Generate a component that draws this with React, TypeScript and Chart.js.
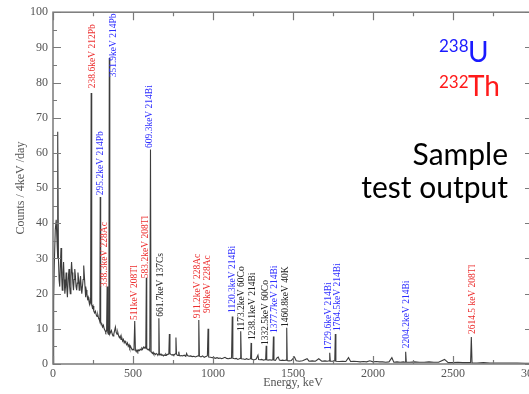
import React, { useEffect, useRef } from "react";
import { Chart, registerables } from "chart.js";

Chart.register(...registerables);

// ---- spectrum (energy in keV, counts / 4keV / day) ----
const energyKeV: number[] = [
  0, 4, 8, 14, 20, 25, 28, 31, 34, 38,
  42, 46, 50, 54, 58, 62, 66, 70, 74, 78,
  82, 86, 90, 95, 100, 104, 108, 112, 116, 120,
  124, 128, 132, 136, 140, 144, 148, 152, 156, 160,
  164, 168, 172, 176, 180, 184, 188, 192, 196, 200,
  204, 208, 212, 216, 220, 224, 228, 232, 235, 238.6,
  242, 246, 250, 255, 260, 265, 270, 275, 280, 285,
  290, 293, 295.2, 298, 302, 306, 310, 315, 320, 325,
  330, 335, 338.3, 342, 346, 349, 351.9, 355, 360, 365,
  370, 375, 380, 385, 390, 395, 400, 405, 410, 415,
  420, 425, 430, 435, 440, 445, 450, 455, 460, 465,
  470, 475, 480, 485, 490, 495, 500, 506, 510.8, 515,
  520, 525, 530, 535, 540, 545, 550, 555, 560, 565,
  570, 575, 580, 583.2, 586, 590, 595, 600, 605, 609.3,
  613, 618, 622, 626, 630, 635, 640, 645, 650, 655,
  658, 661.7, 665, 670, 675, 680, 685, 690, 695, 700,
  705, 710, 715, 720, 724, 727.3, 731, 735, 740, 745,
  750, 755, 760, 765, 768.4, 772, 777, 782, 786, 790,
  795, 800, 810, 820, 830, 835, 840, 850, 860, 870,
  880, 890, 900, 907, 911.2, 915, 925, 935, 945, 955,
  960, 965, 969, 973, 985, 995, 1005, 1015, 1025, 1035,
  1045, 1055, 1065, 1075, 1085, 1095, 1105, 1116, 1120.3, 1124,
  1135, 1145, 1155, 1165, 1170, 1173.2, 1177, 1190, 1200, 1210,
  1220, 1230, 1235, 1238.1, 1241, 1250, 1260, 1270, 1281, 1285,
  1295, 1305, 1315, 1325, 1329, 1332.5, 1336, 1345, 1355, 1365,
  1374, 1377.7, 1381, 1390, 1401, 1408, 1415, 1425, 1435, 1445,
  1457, 1460.8, 1464, 1475, 1490, 1509, 1520, 1540, 1560, 1588,
  1600, 1620, 1640, 1661, 1680, 1700, 1715, 1726, 1729.6, 1733,
  1750, 1761, 1764.5, 1768, 1790, 1810, 1830, 1847, 1860, 1880,
  1900, 1920, 1940, 1960, 1980, 2000, 2020, 2040, 2060, 2080,
  2100, 2118, 2130, 2150, 2170, 2190, 2200, 2204.2, 2208, 2230,
  2260, 2290, 2320, 2350, 2380, 2410, 2447, 2470, 2500, 2530,
  2560, 2590, 2610, 2614.5, 2619, 2650, 2690, 2730, 2760, 2800,
  2850, 2900, 2950, 3000,
];

const countsPerDay: number[] = [
  0, 18, 28, 38, 41, 35, 30, 66, 30, 24,
  22, 28, 33, 25, 21, 26, 29, 24, 20, 22,
  26, 22, 19, 24, 27, 22, 20, 25, 29, 26,
  23, 21, 24, 27, 25, 22, 21, 23, 26, 24,
  21, 23, 25, 22, 20, 22, 24, 28, 25, 22,
  19, 21, 20, 18.5, 19, 18, 17, 18, 17.5, 77,
  17, 16, 16.5, 15, 14.5, 15, 14, 13.5, 14, 13,
  12.5, 12, 47.5, 12, 11.5, 11, 10.5, 11, 10, 9.5,
  9, 9.5, 22, 9, 8.5, 9, 87, 8.5, 9, 9.5,
  8.5, 8, 8.5, 9.5, 10.5, 9, 8.5, 9, 8, 7.5,
  8, 7, 7.5, 6.5, 7, 6, 6.5, 6, 5.5, 6,
  5, 5.5, 4.5, 5, 4.5, 4, 4.2, 4, 12.2, 4,
  3.5, 4, 3.5, 4, 3.8, 4.2, 4, 4.5, 4.2, 4.8,
  4.5, 4.8, 4.5, 24.5, 4.5, 4.2, 4, 4.2, 3.8, 61,
  3.5, 3.2, 3, 3.3, 2.8, 3, 2.7, 3, 2.8, 2.6,
  2.8, 13, 2.6, 2.8, 2.5, 2.7, 2.5, 2.3, 2.6, 2.4,
  2.8, 2.5, 2.7, 2.8, 3, 8.5, 3, 2.8, 2.6, 2.5,
  2.7, 2.5, 2.7, 2.9, 7.5, 2.8, 2.5, 2.4, 3.5, 2.4,
  2.3, 2.4, 2.3, 2.5, 2.2, 3, 2.4, 2.2, 2.3, 2.1,
  2.2, 2, 2.2, 2.3, 12.5, 2.2, 2, 2.3, 1.9, 2.1,
  2.2, 2.4, 10, 2, 1.9, 1.8, 1.8, 1.6, 1.8, 1.6,
  1.7, 1.5, 1.7, 1.9, 1.6, 1.5, 1.6, 1.7, 13.5, 1.6,
  1.5, 1.6, 1.3, 1.5, 1.6, 9.3, 1.5, 1.4, 1.3, 1.5,
  1.3, 1.4, 1.5, 6, 1.4, 1.3, 1.2, 1.4, 2.5, 1.3,
  1.2, 1.3, 1.1, 1.2, 1.3, 5.2, 1.2, 1.1, 1.2, 1.1,
  1.2, 7.8, 1.1, 1, 1.8, 2, 1.1, 1, 1.1, 1,
  1.1, 10.3, 1, 0.9, 1, 2, 0.9, 0.8, 0.9, 1.5,
  0.8, 0.9, 0.8, 1.5, 0.8, 0.9, 0.8, 0.9, 3.2, 0.8,
  0.8, 0.9, 8.5, 0.8, 0.7, 0.8, 0.7, 1.8, 0.7, 0.8,
  0.7, 0.6, 0.7, 0.6, 0.9, 0.6, 0.7, 0.6, 0.6, 0.5,
  0.6, 1.8, 0.5, 0.6, 0.5, 0.6, 0.5, 3.5, 0.5, 0.5,
  0.6, 0.5, 0.5, 0.6, 0.5, 0.5, 1.3, 0.4, 0.4, 0.5,
  0.4, 0.4, 0.4, 7.7, 0.3, 0.3, 0.4, 0.3, 0.3, 0.3,
  0.3, 0.3, 0.2, 0.2,
];

// ---- peak annotations ----
const peakLabels: string[] = [
  "238.6keV 212Pb", "295.2keV 214Pb", "338.3keV 228Ac", "351.9keV 214Pb",
  "511keV 208Tl", "583.2keV 208Tl", "609.3keV 214Bi", "661.7keV 137Cs",
  "911.2keV 228Ac", "969keV 228Ac", "1120.3keV 214Bi", "1173.2keV 60Co",
  "1238.1keV 214Bi", "1332.5keV 60Co", "1377.7keV 214Bi", "1460.8keV 40K",
  "1729.6keV 214Bi", "1764.5keV 214Bi", "2204.2keV 214Bi", "2614.5 keV 208Tl",
];
const peakLabelEnergy: number[] = [
  244, 294, 322, 375, 509, 575, 606, 669, 906, 966,
  1119, 1181, 1244, 1325, 1384, 1456, 1719, 1775, 2212, 2619,
];
const peakLabelBase: number[] = [
  78.4, 48, 21.9, 81.5, 12.5, 24.4, 61.4, 13.4, 13, 14.5,
  14.5, 9.4, 6.8, 5.4, 8.8, 10.5, 4, 9.4, 4.5, 8.5,
];
const peakChain: string[] = [
  "Th", "U", "Th", "U", "Th", "Th", "U", "other", "Th", "Th",
  "U", "other", "other", "other", "U", "other", "U", "U", "U", "Th",
];

const xTicksStep = 500;
const yTicksStep = 10;

const chainColor: Record<string, string> = { Th: "#ec2f2f", U: "#2e2eff", other: "#222222" };
const SERIF = '"Liberation Serif", "DejaVu Serif", serif';

const framePlugin = {
  id: "frameTicks",
  afterDatasetsDraw(chart: any) {
    const { ctx, chartArea, scales } = chart;
    const { left, right, top, bottom } = chartArea;
    const x = scales.x;
    const y = scales.y;
    ctx.save();
    ctx.strokeStyle = "#7a7a7a";
    ctx.lineWidth = 1.5;
    ctx.strokeRect(left, top, right - left, bottom - top);
    ctx.lineWidth = 1.2;
    ctx.beginPath();
    for (let e = 0; e <= 3000; e += xTicksStep / 2) {
      const px = Math.round(x.getPixelForValue(e)) + 0.5;
      const len = e % xTicksStep === 0 ? 8 : 4;
      ctx.moveTo(px, bottom); ctx.lineTo(px, bottom - len);
      ctx.moveTo(px, top); ctx.lineTo(px, top + len);
    }
    for (let v = 0; v <= 100; v += yTicksStep / 2) {
      const py = Math.round(y.getPixelForValue(v)) + 0.5;
      const len = v % yTicksStep === 0 ? 8 : 4;
      ctx.moveTo(left, py); ctx.lineTo(left + len, py);
      ctx.moveTo(right, py); ctx.lineTo(right - len, py);
    }
    ctx.stroke();

    // peak labels
    ctx.font = `9.5px ${SERIF}`;
    ctx.textAlign = "left";
    ctx.textBaseline = "middle";
    peakLabels.forEach((t, i) => {
      const px = x.getPixelForValue(peakLabelEnergy[i]);
      const py = y.getPixelForValue(peakLabelBase[i]);
      ctx.save();
      ctx.translate(px, py);
      ctx.rotate(-Math.PI / 2);
      ctx.fillStyle = chainColor[peakChain[i]];
      ctx.fillText(t, 0, 0);
      ctx.restore();
    });
    ctx.restore();
  },
};

export default function App() {
  const ref = useRef<HTMLCanvasElement | null>(null);

  useEffect(() => {
    if (!ref.current) return;
    const points = energyKeV.map((e, i) => ({ x: e, y: countsPerDay[i] }));
    const chart = new Chart(ref.current, {
      type: "line",
      data: {
        datasets: [
          {
            data: points,
            borderColor: "#3c3c3c",
            borderWidth: 1.1,
            pointRadius: 0,
            tension: 0,
            fill: false,
          },
        ],
      },
      options: {
        animation: false,
        responsive: false,
        maintainAspectRatio: false,
        devicePixelRatio: 1,
        layout: { padding: { left: 0, top: 12, right: 27, bottom: 0 } },
        plugins: { legend: { display: false }, tooltip: { enabled: false } },
        scales: {
          x: {
            type: "linear",
            min: 0,
            max: 3000,
            ticks: {
              stepSize: xTicksStep, padding: 3, color: "#555",
              font: { family: SERIF, size: 12 }, maxRotation: 0,
              callback: (v: any) => String(v),
            },
            grid: { display: false, drawTicks: false },
            border: { display: false },
            title: { display: true, text: "Energy, keV", color: "#555", font: { family: SERIF, size: 12 }, padding: { top: 0, bottom: 4 } },
            afterFit: (s: any) => { s.height = 30; },
          },
          y: {
            type: "linear",
            min: 0,
            max: 100,
            ticks: {
              stepSize: yTicksStep, padding: 5, color: "#555",
              font: { family: SERIF, size: 12 },
              callback: (v: any) => String(v),
            },
            grid: { display: false, drawTicks: false },
            border: { display: false },
            title: { display: true, text: "Counts / 4keV /day", color: "#555", font: { family: SERIF, size: 12 }, padding: { top: 14, bottom: 0 } },
            afterFit: (s: any) => { s.width = 53; },
          },
        },
      },
      plugins: [framePlugin],
    });
    return () => chart.destroy();
  }, []);

  const sans = 'Lato, "Open Sans", sans-serif';
  const abs = (o: any) => ({ position: "absolute" as const, lineHeight: 1, whiteSpace: "nowrap" as const, fontFamily: sans, ...o });

  return (
    <div style={{ position: "fixed", left: 0, top: 0, width: 529, height: 394, overflow: "hidden", background: "#fff" }}>
      <canvas ref={ref} width={560} height={394} style={{ position: "absolute", left: 0, top: 0 }} />
      <span style={abs({ left: 439, top: 37, fontSize: 17, color: "#1a1aff" })}>238</span>
      <span style={abs({ left: 468, top: 37, fontSize: 28, color: "#1a1aff" })}>U</span>
      <span style={abs({ left: 439, top: 73, fontSize: 17, color: "#ff1a1a" })}>232</span>
      <span style={abs({ left: 468, top: 71, fontSize: 28, color: "#ff1a1a" })}>Th</span>
      <span style={abs({ right: 21, top: 138, fontSize: 30, color: "#000" })}>Sample</span>
      <span style={abs({ right: 21, top: 171, fontSize: 30, color: "#000" })}>test output</span>
    </div>
  );
}
